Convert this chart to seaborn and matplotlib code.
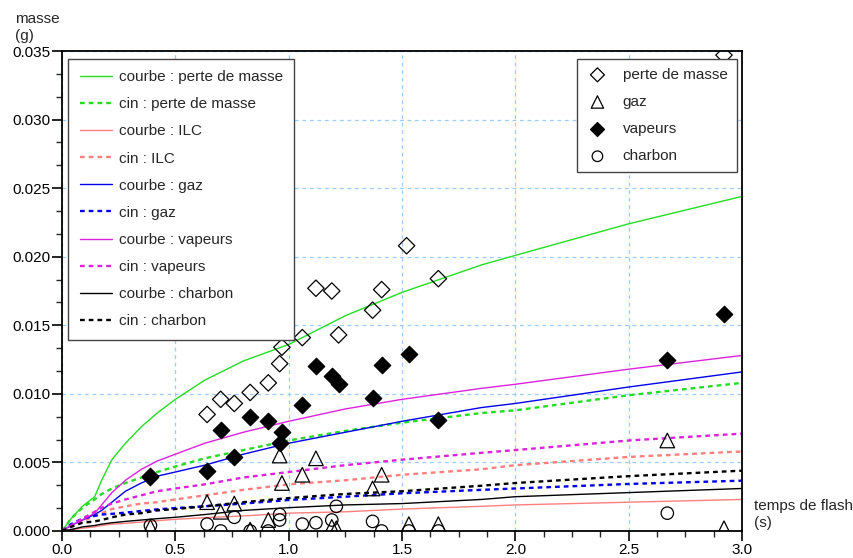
import numpy as np
import pandas as pd
import seaborn as sns
import matplotlib.pyplot as plt
from matplotlib.ticker import MultipleLocator, FormatStrFormatter

# Model curves (time in s, mass in g)
t_curve = [0, 0.04, 0.09, 0.144, 0.175, 0.22, 0.28, 0.35, 0.42, 0.5, 0.63, 0.8,
           1.0, 1.25, 1.5, 1.85, 2.0, 2.5, 3.0]
courbe_perte = [0, 0.0009, 0.0018, 0.0025, 0.0037, 0.0052, 0.0064, 0.0076, 0.0086, 0.0096,
                0.0110, 0.0124, 0.0136, 0.0157, 0.0174, 0.0194, 0.0201, 0.0224, 0.0244]
cin_perte = [0, 0.0009, 0.0017, 0.0023, 0.0027, 0.0031, 0.0035, 0.0039, 0.0043, 0.0047,
             0.0053, 0.0059, 0.0066, 0.0073, 0.0079, 0.0086, 0.0088, 0.0099, 0.0108]
courbe_ilc = [0, 0.0001, 0.0002, 0.0003, 0.0004, 0.0005, 0.00056, 0.00065, 0.00075, 0.00085,
              0.00097, 0.0011, 0.0013, 0.0014, 0.0016, 0.0018, 0.0019, 0.0021, 0.0023]
cin_ilc = [0, 0.0003, 0.0007, 0.0011, 0.0013, 0.0016, 0.0018, 0.0020, 0.0021, 0.0023,
           0.0026, 0.0030, 0.0034, 0.0037, 0.0041, 0.0045, 0.0048, 0.0054, 0.0058]
courbe_gaz = [0, 0.0004, 0.0008, 0.0012, 0.0015, 0.0021, 0.0029, 0.0035, 0.0040, 0.0043,
              0.0048, 0.0056, 0.0064, 0.0072, 0.0080, 0.0090, 0.0093, 0.0105, 0.0116]
cin_gaz = [0, 0.0005, 0.0009, 0.0011, 0.0012, 0.00125, 0.00134, 0.00146, 0.00158, 0.00167,
           0.0018, 0.0020, 0.00226, 0.0025, 0.00275, 0.0030, 0.0031, 0.00343, 0.00367]
courbe_vap = [0, 0.0004, 0.0008, 0.0013, 0.0019, 0.0028, 0.0037, 0.0045, 0.0051, 0.0056,
              0.0064, 0.0072, 0.0080, 0.0089, 0.0096, 0.0104, 0.0107, 0.0118, 0.0128]
cin_vap = [0, 0.0004, 0.0009, 0.0014, 0.0017, 0.0020, 0.0023, 0.0026, 0.0029, 0.0031,
           0.0034, 0.0039, 0.0043, 0.0048, 0.0052, 0.0057, 0.0059, 0.0066, 0.0071]
courbe_charbon = [0, 0.0001, 0.0003, 0.0004, 0.0005, 0.0006, 0.0007, 0.0008, 0.0009, 0.0010,
                  0.0012, 0.0015, 0.0017, 0.0019, 0.0020, 0.0023, 0.0025, 0.0028, 0.0031]
cin_charbon = [0, 0.0003, 0.0006, 0.0007, 0.0008, 0.0010, 0.0012, 0.0013, 0.0015, 0.0016,
               0.0018, 0.0021, 0.0024, 0.0027, 0.0029, 0.0033, 0.0035, 0.0040, 0.0044]

# Measured points
t_perte = [0.39, 0.64, 0.70, 0.76, 0.83, 0.91, 0.96, 0.97, 1.06, 1.12, 1.19, 1.22,
           1.37, 1.41, 1.52, 1.66, 2.92]
perte = [0.0039, 0.0085, 0.0096, 0.0093, 0.0101, 0.0108, 0.0122, 0.0134, 0.0141, 0.0177,
         0.0175, 0.0143, 0.0161, 0.0176, 0.0208, 0.0184, 0.0347]
t_gaz = [0.39, 0.64, 0.70, 0.76, 0.83, 0.91, 0.96, 0.97, 1.06, 1.12, 1.19, 1.21,
         1.37, 1.41, 1.53, 1.66, 2.67, 2.92]
gaz = [0.0003, 0.0021, 0.0014, 0.0020, 0.0001, 0.0008, 0.0055, 0.0035, 0.0041, 0.0053,
       0.0003, 0.0002, 0.0031, 0.0041, 0.0005, 0.0005, 0.0066, 0.0002]
t_vap = [0.39, 0.64, 0.70, 0.76, 0.83, 0.91, 0.96, 0.97, 1.06, 1.12, 1.19, 1.22,
         1.37, 1.41, 1.53, 1.66, 2.67, 2.92]
vapeurs = [0.0040, 0.0044, 0.0074, 0.0054, 0.0083, 0.0080, 0.0064, 0.0072, 0.0092, 0.0120,
           0.0113, 0.0107, 0.0097, 0.0121, 0.0129, 0.0081, 0.0125, 0.0158]
t_charbon = [0.39, 0.64, 0.70, 0.76, 0.83, 0.91, 0.96, 0.96, 1.06, 1.12, 1.19, 1.21,
             1.37, 1.41, 1.53, 1.66, 2.67]
charbon = [0.0004, 0.0005, 0.0000, 0.0010, 0.0000, 0.0000, 0.0012, 0.0008, 0.0005, 0.0006,
           0.0008, 0.0018, 0.0007, 0.0000, 0.0000, 0.0000, 0.0013]

sns.set_style('white')
plt.rcParams['font.family'] = ['Liberation Sans', 'DejaVu Sans']

fig = plt.figure(figsize=(8.54, 5.58), dpi=100)
ax = fig.add_axes([0.0726, 0.0484, 0.7964, 0.8602])

curves = [
    ('courbe : perte de masse', courbe_perte, '#22dd22', '-'),
    ('cin : perte de masse', cin_perte, '#22dd22', ':'),
    ('courbe : ILC', courbe_ilc, '#ff7f7f', '-'),
    ('cin : ILC', cin_ilc, '#ff7f7f', ':'),
    ('courbe : gaz', courbe_gaz, '#0000ee', '-'),
    ('cin : gaz', cin_gaz, '#0000ee', ':'),
    ('courbe : vapeurs', courbe_vap, '#dd22dd', '-'),
    ('cin : vapeurs', cin_vap, '#dd22dd', ':'),
    ('courbe : charbon', courbe_charbon, '#000000', '-'),
    ('cin : charbon', cin_charbon, '#000000', ':'),
]
line_handles = []
for label, ys, col, ls in curves:
    if ls == '-':
        sns.lineplot(x=t_curve, y=ys, color=col, linewidth=1.0, ax=ax, label=label)
    else:
        sns.lineplot(x=t_curve, y=ys, color=col, linewidth=1.7, ax=ax, label=label,
                     dashes=False, linestyle=(0, (2, 1.7)))
    line_handles.append(ax.lines[-1])

points = [
    ('perte de masse', t_perte, perte, 'D', 'none', 'black', 70),
    ('gaz', t_gaz, gaz, '^', 'none', 'black', 110),
    ('vapeurs', t_vap, vapeurs, 'D', 'black', 'black', 70),
    ('charbon', t_charbon, charbon, 'o', 'none', 'black', 80),
]
point_handles = []
for label, xs, ys, mk, fc, ec, size in points:
    ax.scatter(xs, ys, marker=mk, s=size, facecolors=fc, edgecolors=ec,
               linewidths=0.9, zorder=5, label=label)
    point_handles.append(ax.collections[-1])

ax.set_xlim(0, 3.0)
ax.set_ylim(0, 0.035)
ax.xaxis.set_major_locator(MultipleLocator(0.5))
ax.xaxis.set_minor_locator(MultipleLocator(0.125))
ax.yaxis.set_major_locator(MultipleLocator(0.005))
ax.yaxis.set_minor_locator(MultipleLocator(0.005 / 3))
ax.xaxis.set_major_formatter(FormatStrFormatter('%.1f'))
ax.yaxis.set_major_formatter(FormatStrFormatter('%.3f'))
ax.tick_params(which='major', direction='out', length=7, width=1.2, labelsize=11,
               bottom=True, left=True, colors='black', pad=1.5)
ax.tick_params(which='minor', direction='out', length=4, width=1.0,
               bottom=True, left=True)
ax.grid(True, which='major', color='#99ccff', linestyle=(0, (3, 3)), linewidth=0.9)
for sp in ax.spines.values():
    sp.set_color('black')
    sp.set_linewidth(1.3)
ax.set_xlabel('')
ax.set_ylabel('')

leg1 = ax.legend(handles=line_handles, labels=[c[0] for c in curves], loc='upper left',
                 bbox_to_anchor=(0.009, 0.984), fontsize=11, frameon=True, fancybox=False,
                 edgecolor='#444444', framealpha=1, handlelength=2.1, handletextpad=0.45,
                 labelspacing=0.86, borderpad=0.75, borderaxespad=0)
leg1.get_frame().set_linewidth(1.0)
ax.add_artist(leg1)
leg2 = ax.legend(handles=point_handles, labels=[p[0] for p in points], loc='upper right',
                 bbox_to_anchor=(0.992, 0.984), fontsize=11, frameon=True, fancybox=False,
                 edgecolor='#444444', framealpha=1, handlelength=1.5, handletextpad=0.9,
                 labelspacing=0.86, borderpad=0.6, borderaxespad=0, markerscale=0.85)
leg2.get_frame().set_linewidth(1.0)
leg1.set_zorder(10)
leg2.set_zorder(10)

fig.text(0.018, 0.978, 'masse\n(g)', ha='left', va='top', fontsize=11, linespacing=1.25)
fig.text(0.883, 0.105, 'temps de flash\n(s)', ha='left', va='top', fontsize=11,
         linespacing=1.25)

fig.savefig('out.png', dpi=100)
